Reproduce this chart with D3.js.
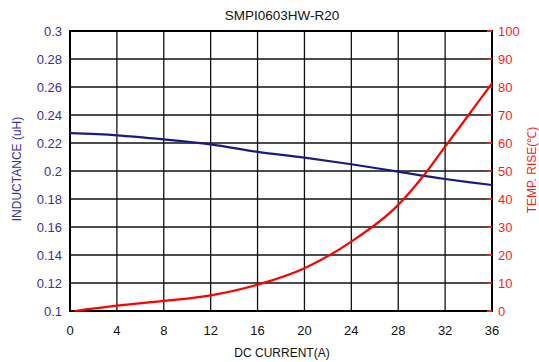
<!DOCTYPE html>
<html>
<head>
<meta charset="utf-8">
<script src="https://cdn.jsdelivr.net/npm/d3@7.9.0/dist/d3.min.js"></script>
<style>
  body { margin: 0; background: #fff; }
  svg { font-family: "Liberation Sans", Arial, sans-serif; }
</style>
</head>
<body>
<svg id="chart" width="539" height="362"></svg>
<script>
// data
const current = [0, 4, 8, 12, 16, 20, 24, 28, 32, 34, 36];
const inductance = [0.227, 0.2255, 0.2226, 0.219, 0.2137, 0.2095, 0.2048, 0.1995, 0.1943, 0.192, 0.190];
const tempCurrent = [0.4, 4, 8, 12, 16, 20, 24, 28, 30, 32, 34, 36];
const tempRise = [0, 1.9, 3.6, 5.6, 9.4, 15.3, 24.8, 37.9, 47.5, 58.7, 70, 81.3];
const xTicks = [0, 4, 8, 12, 16, 20, 24, 28, 32, 36];
const leftTicks = [0.1, 0.12, 0.14, 0.16, 0.18, 0.2, 0.22, 0.24, 0.26, 0.28, 0.3];
const rightTicks = [0, 10, 20, 30, 40, 50, 60, 70, 80, 90, 100];

const svg = d3.select('#chart');
const margin = { left: 70, right: 47, top: 31, bottom: 51 };
const W = 539, H = 362;

const x = d3.scaleLinear().domain([0, 36]).range([margin.left, W - margin.right]);
const yL = d3.scaleLinear().domain([0.1, 0.3]).range([H - margin.bottom, margin.top]);
const yR = d3.scaleLinear().domain([0, 100]).range([H - margin.bottom, margin.top]);

const blue = '#3a2f9c';
const red = '#ff1a1a';

// grid
svg.append('g')
  .selectAll('line')
  .data(xTicks)
  .join('line')
  .attr('x1', d => x(d)).attr('x2', d => x(d))
  .attr('y1', margin.top).attr('y2', H - margin.bottom)
  .attr('stroke', '#111').attr('stroke-width', 1.3);

svg.append('g')
  .selectAll('line')
  .data(leftTicks)
  .join('line')
  .attr('x1', margin.left).attr('x2', W - margin.right)
  .attr('y1', d => yL(d)).attr('y2', d => yL(d))
  .attr('stroke', '#111').attr('stroke-width', 1.3);

// frame
svg.append('rect')
  .attr('x', margin.left).attr('y', margin.top)
  .attr('width', W - margin.left - margin.right)
  .attr('height', H - margin.top - margin.bottom)
  .attr('fill', 'none').attr('stroke', '#000').attr('stroke-width', 2);

// red ticks on right axis (inside)
svg.append('g')
  .selectAll('line')
  .data(rightTicks)
  .join('line')
  .attr('x1', x(36) - 5).attr('x2', x(36))
  .attr('y1', d => yR(d)).attr('y2', d => yR(d))
  .attr('stroke', red).attr('stroke-width', 2);

// axes labels
svg.append('g')
  .selectAll('text')
  .data(xTicks)
  .join('text')
  .attr('x', d => x(d)).attr('y', 335)
  .attr('text-anchor', 'middle')
  .attr('font-size', 13)
  .attr('fill', '#111')
  .text(d => d);

svg.append('g')
  .selectAll('text')
  .data(leftTicks)
  .join('text')
  .attr('x', 62).attr('y', d => yL(d) + 4.5)
  .attr('text-anchor', 'end')
  .attr('font-size', 13)
  .attr('fill', blue)
  .text(d => d3.format('~g')(d));

svg.append('g')
  .selectAll('text')
  .data(rightTicks)
  .join('text')
  .attr('x', 498).attr('y', d => yR(d) + 4.5)
  .attr('text-anchor', 'start')
  .attr('font-size', 13)
  .attr('fill', red)
  .text(d => d);

// lines
const indLine = d3.line()
  .x((d, i) => x(current[i]))
  .y(d => yL(d))
  .curve(d3.curveMonotoneX);

svg.append('path')
  .datum(inductance)
  .attr('d', indLine)
  .attr('fill', 'none')
  .attr('stroke', '#1c1a82')
  .attr('stroke-width', 2.2);

const tempLine = d3.line()
  .x((d, i) => x(tempCurrent[i]))
  .y(d => yR(d))
  .curve(d3.curveMonotoneX);

svg.append('path')
  .datum(tempRise)
  .attr('d', tempLine)
  .attr('fill', 'none')
  .attr('stroke', '#ff0000')
  .attr('stroke-width', 2.2);

// titles
svg.append('text')
  .attr('x', 282).attr('y', 20)
  .attr('text-anchor', 'middle')
  .attr('font-size', 13.5)
  .attr('fill', '#111')
  .text('SMPI0603HW-R20');

svg.append('text')
  .attr('x', 282).attr('y', 357)
  .attr('text-anchor', 'middle')
  .attr('font-size', 12)
  .attr('fill', '#111')
  .text('DC CURRENT(A)');

svg.append('text')
  .attr('transform', 'translate(21,169) rotate(-90)')
  .attr('text-anchor', 'middle')
  .attr('font-size', 12)
  .attr('fill', blue)
  .text('INDUCTANCE (uH)');

svg.append('text')
  .attr('transform', 'translate(536,170) rotate(-90)')
  .attr('text-anchor', 'middle')
  .attr('font-size', 12)
  .attr('fill', red)
  .text('TEMP. RISE(℃)');
</script>
</body>
</html>
